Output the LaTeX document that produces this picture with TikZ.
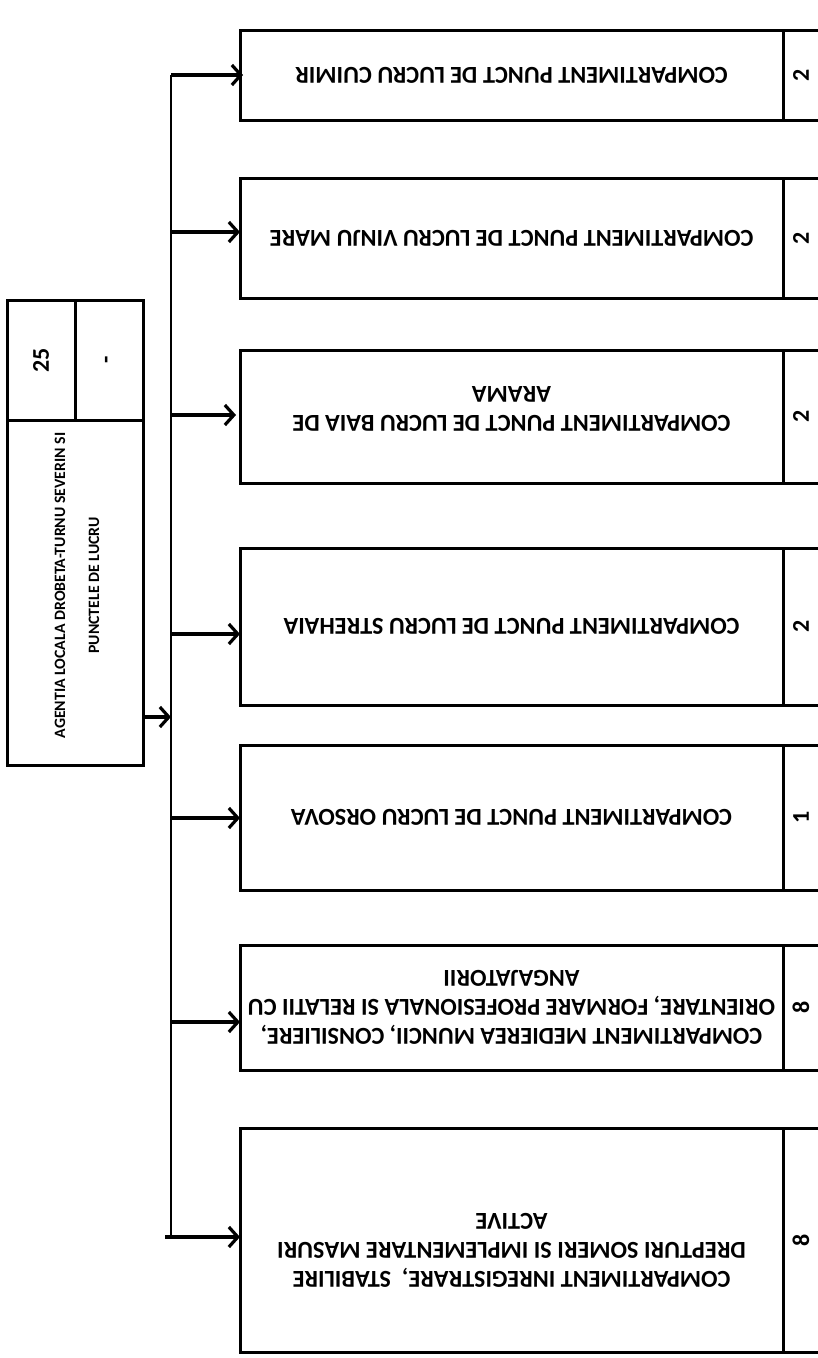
\documentclass[tikz,border=0pt]{standalone}
\usepackage{fontspec}
\setmainfont{Carlito}
\usetikzlibrary{arrows.meta,calc}
\begin{document}
\begin{tikzpicture}[x=1pt,y=-1pt,
  box/.style={draw,line width=3pt,inner sep=0pt,outer sep=0pt},
  conn/.style={line width=2.8pt},
  arr/.style={line width=3.2pt,-{Straight Barb[length=9pt,width=20pt,line width=3.2pt]}},
  btext/.style={font=\bfseries\fontsize{24.3}{29}\selectfont,rotate=180,align=center,inner sep=0pt},
  ltext/.style={font=\bfseries\fontsize{15.8}{34}\selectfont,rotate=90,align=center,inner sep=0pt},
  num/.style={font=\bfseries\fontsize{24}{29}\selectfont,rotate=90,inner sep=0pt}
]
\useasboundingbox (0,0) rectangle (817,1358);
\fill[white] (0,0) rectangle (817,1358);

% parent box
\node[box,minimum width=68,minimum height=120,anchor=north west] (c25) at (7,300) {};
\node[box,minimum width=68,minimum height=120,anchor=north west] (cdash) at (75,300) {};
\node[box,minimum width=136,minimum height=345,anchor=north west] (main) at (7,420) {};
\node[num] (t25) at (c25.center) {25};
\node[num] (tdash) at (cdash.center) {-};
\node[ltext] (tmain) at ($(main.center)+(2,-7)$) {AGENTIA LOCALA DROBETA-TURNU SEVERIN SI\\PUNCTELE DE LUCRU};

% child boxes: text cell c<i>, number cell n<i>
\foreach \i/\top/\h in {1/30/90,2/178/120,3/350/133,4/548/157,5/745/145,6/945/125,7/1128/224}{
  \node[box,minimum width=543,minimum height=\h,anchor=north west] (c\i) at (240,\top) {};
  \node[box,minimum width=80,minimum height=\h,anchor=north west] (n\i) at (783,\top) {};
}

\node[btext] (t1) at (c1.center) {COMPARTIMENT PUNCT DE LUCRU CUIMIR};
\node[btext] (t2) at (c2.center) {COMPARTIMENT PUNCT DE LUCRU VINJU MARE};
\node[btext] (t3) at ($(c3.center)+(0,-8)$) {COMPARTIMENT PUNCT DE LUCRU BAIA DE\\ARAMA};
\node[btext] (t4) at (c4.center) {COMPARTIMENT PUNCT DE LUCRU STREHAIA};
\node[btext] (t5) at (c5.center) {COMPARTIMENT PUNCT DE LUCRU ORSOVA};
\node[btext] (t6) at (c6.center) {COMPARTIMENT MEDIEREA MUNCII, CONSILIERE,\\ORIENTARE, FORMARE PROFESIONALA SI RELATII CU\\ANGAJATORII};
\node[btext] (t7) at ($(c7.center)+(0,10)$) {COMPARTIMENT INREGISTRARE,~ STABILIRE\\DREPTURI SOMERI SI IMPLEMENTARE MASURI\\ACTIVE};

\node[num] (m1) at ($(n1.west)+(18,0)$) {2};
\node[num] (m2) at ($(n2.west)+(18,0)$) {2};
\node[num] (m3) at ($(n3.west)+(18,0)$) {2};
\node[num] (m4) at ($(n4.west)+(18,0)$) {2};
\node[num] (m5) at ($(n5.west)+(18,0)$) {1};
\node[num] (m6) at ($(n6.west)+(18,0)$) {8};
\node[num] (m7) at ($(n7.west)+(18,0)$) {8};

% trunk and arrows
\coordinate (ttop) at (171,75);
\coordinate (tbot) at (171,1237);
\coordinate (a2) at (171,232);
\coordinate (a3) at (171,415);
\coordinate (a4) at (171,634);
\coordinate (a5) at (171,818);
\coordinate (a6) at (171,1022);
\coordinate (pa) at (171,717);
\coordinate (a7s) at (165,1237);

\draw[conn] (tbot) -- (ttop);
\draw[arr] (ttop) -- ($(ttop -| c1.west)+(3,0)$);
\draw[arr] (a2) -- (a2 -| c2.west);
\draw[arr] (a3) -- ($(a3 -| c3.west)+(-4,0)$);
\draw[arr] (a4) -- (a4 -| c4.west);
\draw[arr] (a5) -- (a5 -| c5.west);
\draw[arr] (a6) -- (a6 -| c6.west);
\draw[arr] (a7s) -- (tbot -| c7.west);
\draw[arr] (pa -| main.east) -- (pa);
\end{tikzpicture}
\end{document}
